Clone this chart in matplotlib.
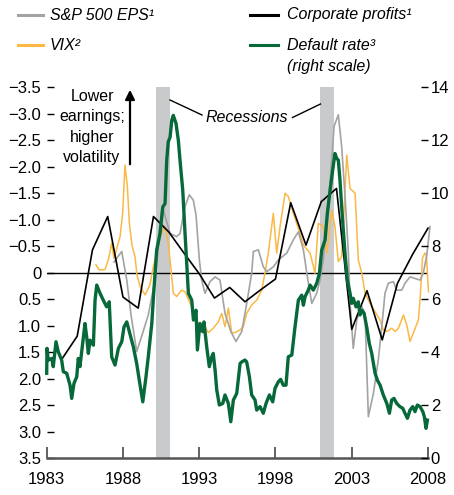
import numpy as np
import matplotlib
matplotlib.use('Agg')
import matplotlib.pyplot as plt
from matplotlib.lines import Line2D

plt.rcParams['font.family'] = ['Liberation Sans', 'DejaVu Sans']

# ---- data ----
# corporate profits, annual (left scale, inverted)
cp_years = [1984, 1985, 1986, 1987, 1988, 1989, 1990, 1991, 1992, 1993, 1994, 1995,
            1996, 1997, 1998, 1999, 2000, 2001, 2002, 2003, 2004, 2005, 2006, 2007, 2008]
cp_vals = [1.63, 1.20, -0.43, -1.06, 0.46, 0.67, -1.06, -0.77, -0.37, 0.02, 0.48, 0.28,
           0.55, 0.33, 0.12, -1.32, -0.52, -1.34, -1.59, 1.07, 0.34, 1.27, 0.20, -0.35, -0.84]

# S&P 500 EPS (left scale)
eps_years = [1987.41, 1987.61, 1987.92, 1988.25, 1988.53, 1988.90, 1989.25, 1989.66, 1990.10,
             1990.30, 1990.54, 1990.65, 1990.87, 1991.09, 1991.52, 1991.74, 1992.07, 1992.35,
             1992.61, 1992.79, 1993.01, 1993.16, 1993.38, 1993.71, 1994.04, 1994.36, 1994.69,
             1995.07, 1995.41, 1995.79, 1996.15, 1996.44, 1996.55, 1996.88, 1997.20, 1997.43,
             1997.86, 1998.19, 1998.74, 1999.17, 1999.50, 1999.83, 2000.07, 2000.38, 2000.70,
             2000.92, 2001.14, 2001.36, 2001.59, 2001.84, 2002.12, 2002.34, 2002.56, 2002.78,
             2002.89, 2003.10, 2003.33, 2003.66, 2003.87, 2004.09, 2004.42, 2004.74, 2004.97,
             2005.18, 2005.40, 2005.73, 2005.95, 2006.28, 2006.49, 2006.82, 2007.15, 2007.48,
             2007.69, 2007.92, 2008.13]
eps_vals = [-0.20, -0.28, -0.40, 0.14, 0.80, 1.49, 1.18, 0.80, 0.14,
            -0.43, -1.15, -1.18, -0.96, -0.74, -0.68, -0.74, -1.25, -1.47,
            -1.37, -1.09, -0.24, 0.14, 0.39, 0.17, 0.08, 0.14, 0.77,
            1.11, 1.30, 1.11, 0.52, 0.01, -0.40, -0.43, -0.11, -0.02,
            -0.11, -0.24, -0.37, -0.62, -0.77, -0.43, 0.04, 0.58, 0.39,
            0.14, -0.24, -1.00, -1.75, -2.76, -2.98, -2.38, -1.44, -0.37,
            0.58, 1.43, 0.89, 0.64, 0.77, 2.72, 2.28, 1.65, 1.02,
            0.39, 0.20, 0.17, 0.33, 0.33, 0.20, 0.08, 0.11, 0.14,
            0.01, -0.33, -0.87]

# VIX (left scale)
vix_years = [1986.23, 1986.45, 1986.82, 1987.04, 1987.26, 1987.41, 1987.81, 1987.98, 1988.13,
             1988.29, 1988.42, 1988.59, 1988.79, 1988.92, 1989.12, 1989.45, 1989.77, 1989.99,
             1990.21, 1990.43, 1990.76, 1990.97, 1991.20, 1991.30, 1991.52, 1991.85, 1992.07,
             1992.40, 1992.61, 1992.94, 1993.27, 1993.60, 1993.92, 1994.25, 1994.48, 1994.69,
             1994.91, 1995.13, 1995.35, 1995.68, 1995.89, 1996.11, 1996.44, 1996.77, 1997.10,
             1997.31, 1997.53, 1997.86, 1998.08, 1998.30, 1998.63, 1998.84, 1999.17, 1999.61,
             1999.83, 2000.27, 2000.59, 2000.81, 2001.14, 2001.36, 2001.69, 2001.90, 2002.12,
             2002.34, 2002.45, 2002.67, 2002.89, 2003.22, 2003.43, 2003.66, 2003.87, 2004.20,
             2004.53, 2004.85, 2005.07, 2005.30, 2005.62, 2005.84, 2006.06, 2006.39, 2006.61,
             2006.82, 2007.04, 2007.37, 2007.48, 2007.64, 2007.80, 2007.90, 2008.03]
vix_vals = [-0.15, -0.05, -0.06, -0.24, -0.56, -0.27, -0.68, -1.12, -2.03,
            -1.62, -0.93, -0.52, -0.30, 0.04, 0.26, 0.42, 0.23, -0.11,
            -0.37, -0.68, -0.87, -0.56, 0.08, 0.39, 0.45, 0.33, 0.36,
            0.58, 0.70, 0.96, 0.99, 1.13, 1.05, 0.93, 0.77, 1.02,
            0.67, 1.14, 1.13, 1.08, 1.02, 0.77, 0.61, 0.52, 0.33,
            0.01, -0.37, -1.12, -0.37, -0.87, -1.50, -1.44, -1.12, -0.74,
            -0.52, -0.37, 0.01, -0.93, -0.87, -0.37, -1.18, -0.87, -0.21,
            -0.30, -0.87, -2.22, -1.59, -1.50, -0.24, 0.01, 0.39, 0.58,
            0.74, 0.89, 1.08, 1.11, 1.05, 1.11, 1.05, 0.80, 0.99,
            1.30, 1.14, 0.89, 0.51, -0.28, -0.37, -0.32, 0.36]

# default rate, % (right scale)
dr_years = [1983.00, 1983.02, 1983.10, 1983.33, 1983.43, 1983.61, 1983.76, 1983.98, 1984.09,
            1984.31, 1984.53, 1984.64, 1984.79, 1984.97, 1985.07, 1985.18, 1985.36, 1985.51,
            1985.62, 1985.73, 1985.84, 1986.06, 1986.17, 1986.28, 1986.50, 1986.71, 1986.93,
            1987.10, 1987.26, 1987.48, 1987.70, 1987.92, 1988.07, 1988.25, 1988.42, 1988.68,
            1988.90, 1989.07, 1989.30, 1989.51, 1989.66, 1989.89, 1990.00, 1990.21, 1990.43,
            1990.61, 1990.76, 1990.87, 1990.97, 1991.09, 1991.20, 1991.30, 1991.48, 1991.63,
            1991.74, 1991.92, 1992.07, 1992.29, 1992.51, 1992.62, 1992.79, 1992.88, 1993.05,
            1993.23, 1993.31, 1993.49, 1993.66, 1993.82, 1993.92, 1994.04, 1994.15, 1994.32,
            1994.54, 1994.69, 1994.91, 1995.07, 1995.24, 1995.46, 1995.68, 1995.79, 1996.00,
            1996.11, 1996.29, 1996.44, 1996.66, 1996.77, 1996.99, 1997.20, 1997.38, 1997.60,
            1997.82, 1997.97, 1998.19, 1998.34, 1998.51, 1998.69, 1998.84, 1999.07, 1999.28,
            1999.39, 1999.50, 1999.72, 1999.83, 1999.94, 2000.15, 2000.27, 2000.48, 2000.70,
            2000.88, 2001.03, 2001.25, 2001.40, 2001.58, 2001.75, 2001.90, 2002.02, 2002.12,
            2002.23, 2002.34, 2002.45, 2002.56, 2002.71, 2002.89, 2003.00, 2003.10, 2003.28,
            2003.43, 2003.54, 2003.66, 2003.81, 2003.98, 2004.15, 2004.31, 2004.53, 2004.68,
            2004.86, 2005.07, 2005.30, 2005.47, 2005.62, 2005.77, 2005.95, 2006.16, 2006.34,
            2006.49, 2006.65, 2006.82, 2007.00, 2007.15, 2007.30, 2007.48, 2007.66, 2007.76,
            2007.87, 2007.96]
dr_vals = [3.20, 4.14, 3.70, 3.76, 3.45, 4.39, 4.01, 3.70, 3.26,
           3.20, 2.75, 2.25, 2.82, 3.07, 3.76, 3.45, 4.33, 5.08,
           4.58, 3.95, 4.45, 4.26, 5.96, 6.53, 6.22, 5.96, 5.71,
           5.90, 3.82, 3.51, 4.14, 4.39, 4.95, 5.14, 4.77, 4.20,
           3.57, 2.94, 2.12, 3.07, 3.82, 5.08, 6.09, 7.85, 8.48,
           9.48, 9.61, 11.25, 11.94, 12.12, 12.75, 12.94, 12.63, 12.00,
           11.25, 10.11, 8.48, 6.22, 5.96, 5.21, 5.58, 4.08, 5.08,
           4.77, 5.14, 4.20, 3.45, 3.82, 3.95, 3.32, 2.57, 2.00,
           2.06, 2.38, 2.06, 1.37, 2.19, 2.44, 3.57, 3.63, 3.70,
           3.63, 3.07, 2.38, 2.19, 1.81, 1.94, 1.69, 2.06, 2.38,
           2.12, 2.63, 2.88, 2.97, 2.75, 2.75, 3.82, 3.89, 4.95,
           5.46, 5.96, 6.15, 5.77, 6.09, 6.34, 6.53, 6.34, 6.59,
           6.97, 7.85, 8.23, 9.23, 10.11, 10.87, 11.50, 11.31, 11.25,
           10.49, 9.48, 8.60, 7.72, 6.72, 6.22, 5.84, 6.03, 5.71,
           5.90, 5.40, 5.58, 5.46, 4.95, 4.33, 3.95, 3.20, 2.94,
           2.75, 2.38, 2.06, 1.69, 2.19, 2.25, 2.06, 1.94, 1.88,
           1.69, 1.50, 1.81, 1.94, 1.75, 2.00, 1.94, 1.75, 1.56,
           1.12, 1.43]

recessions = [(1990.17, 1991.09), (2000.92, 2001.84)]

x_ticks = [1983, 1988, 1993, 1998, 2003, 2008]
left_ticks = [-3.5, -3.0, -2.5, -2.0, -1.5, -1.0, -0.5, 0, 0.5, 1.0, 1.5, 2.0, 2.5, 3.0, 3.5]
left_labels = ['\u22123.5', '\u22123.0', '\u22122.5', '\u22122.0', '\u22121.5', '\u22121.0',
               '\u22120.5', '0', '0.5', '1.0', '1.5', '2.0', '2.5', '3.0', '3.5']
right_ticks = [0, 2, 4, 6, 8, 10, 12, 14]

GREY = '#a3a3a3'
ORANGE = '#fbb845'
GREEN = '#07693a'
BAR = '#c9cacc'

W, H = 454, 495


def fx(x):
    return x / W


def fy(y):
    return 1 - y / H


fig = plt.figure(figsize=(W / 100, H / 100), dpi=100)
ax = fig.add_axes([fx(46.7), 1 - 458 / H, (428 - 46.7) / W, (458 - 87.3) / H])
ax.set_xlim(1983, 2008)
ax.set_ylim(3.5, -3.5)

for a, b in recessions:
    ax.axvspan(a, b, color=BAR, lw=0, zorder=0)
ax.axhline(0, color='black', lw=1.0, zorder=1)

ax.plot(vix_years, vix_vals, color=ORANGE, lw=1.1, zorder=2, clip_on=False)
ax.plot(eps_years, eps_vals, color=GREY, lw=1.2, zorder=3, clip_on=False)
ax.plot(cp_years, cp_vals, color='black', lw=1.2, zorder=4, clip_on=False)

ax2 = ax.twinx()
ax2.set_ylim(0, 14)
ax2.plot(dr_years, dr_vals, color=GREEN, lw=2.4, clip_on=False)

for a_ in (ax, ax2):
    for s in ('top', 'left', 'right'):
        a_.spines[s].set_visible(False)
ax2.spines['bottom'].set_visible(False)
ax.spines['bottom'].set_color('#555555')
ax.spines['bottom'].set_linewidth(1.8)

ax.set_xticks(x_ticks)
ax.set_xticklabels([str(t) for t in x_ticks])
ax.tick_params(axis='x', direction='in', length=8, width=1.3, color='#555555',
               labelsize=12, pad=10)
ax.set_yticks(left_ticks)
ax.set_yticklabels(left_labels)
ax.tick_params(axis='y', direction='in', length=5, width=1.0, labelsize=12, pad=4)
ax2.set_yticks(right_ticks)
ax2.set_yticklabels([str(t) for t in right_ticks])
ax2.tick_params(axis='y', direction='in', length=5, width=1.0, labelsize=12, pad=2)

# legend (manual)
leg = [(18, 43, 15, GREY, 'S&P 500 EPS\u00b9', 50),
       (18, 43, 45, ORANGE, 'VIX\u00b2', 50),
       (250, 278, 15, 'black', 'Corporate profits\u00b9', 287),
       (250, 278, 45, GREEN, 'Default rate\u00b3', 287)]
for x0, x1, y, c, label, tx in leg:
    fig.add_artist(Line2D([fx(x0), fx(x1)], [fy(y), fy(y)], color=c, lw=2.2))
    fig.text(fx(tx), fy(y), label, fontsize=11.5, style='italic', va='center', ha='left')
fig.text(fx(287), fy(67), '(right scale)', fontsize=11.5, style='italic', va='center', ha='left')

# annotations
fig.text(fx(92), fy(127), 'Lower\nearnings;\nhigher\nvolatility', fontsize=11.5,
         ha='center', va='center', linespacing=1.45)
ax.annotate('', xy=(fx(130), fy(87)), xytext=(fx(130), fy(167)),
            xycoords='figure fraction', textcoords='figure fraction',
            arrowprops=dict(arrowstyle='-|>', lw=1.6, color='black', mutation_scale=14))
fig.text(fx(246.5), fy(117), 'Recessions', fontsize=11.5, style='italic',
         ha='center', va='center')
fig.add_artist(Line2D([fx(170), fx(202)], [fy(100), fy(115)], color='black', lw=1.0))
fig.add_artist(Line2D([fx(292.5), fx(320.5)], [fy(117.5), fy(104)], color='black', lw=1.0))

fig.savefig('out.png', dpi=100)
